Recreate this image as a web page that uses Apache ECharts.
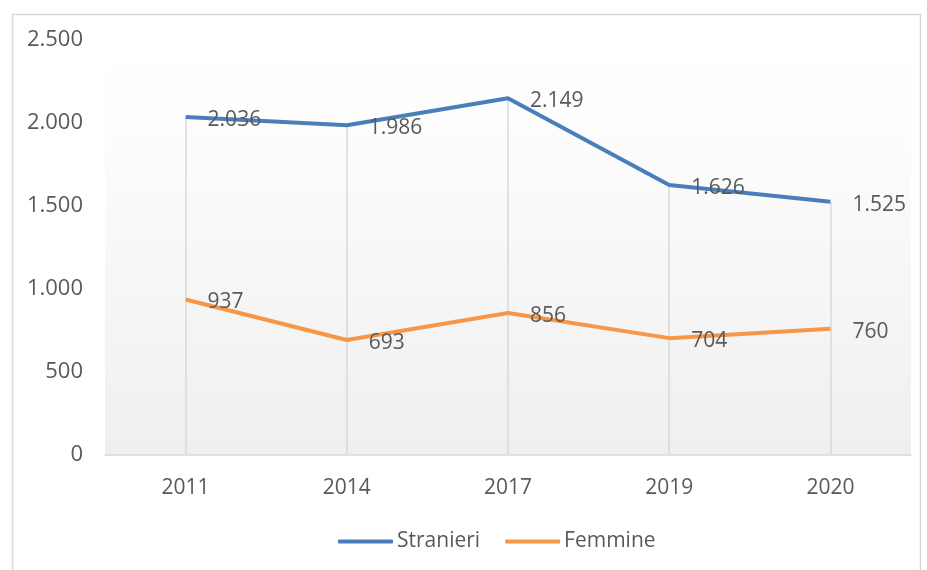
<!DOCTYPE html>
<html>
<head>
<meta charset="utf-8">
<script src="https://cdn.jsdelivr.net/npm/echarts@6/dist/echarts.min.js"></script>
<style>
  html, body { margin: 0; padding: 0; background: #fff; }
  #chart { width: 927px; height: 570px; }
</style>
</head>
<body>
<div id="chart"></div>
<script>
var years = ['2011', '2014', '2017', '2019', '2020'];
var stranieri = [2036, 1986, 2149, 1626, 1525];
var femmine = [937, 693, 856, 704, 760];

// formato italiano: punto come separatore delle migliaia
function fmt(v) {
    return String(v).replace(/\B(?=(\d{3})+(?!\d))/g, '.');
}

var myChart = echarts.init(document.getElementById('chart'));
var FONT = 'Open Sans';
var TXT = '#595959';

// linee verticali dal punto più alto fino all'asse
var dropLines = years.map(function (y, i) {
    return [
        { coord: [i, Math.max(stranieri[i], femmine[i])] },
        { coord: [i, 0] }
    ];
});

var option = {
    animation: false,
    textStyle: { fontFamily: FONT },
    graphic: [{
        type: 'rect',
        left: 10, top: 12,
        shape: { width: 908, height: 570 },
        style: { fill: 'none', stroke: '#d9d9d9', lineWidth: 1.5 },
        z: -1
    }],
    grid: {
        left: 105, right: 16, top: 40, bottom: 115,
        show: true,
        borderWidth: 0,
        backgroundColor: new echarts.graphic.LinearGradient(0, 0, 0, 1, [
            { offset: 0, color: '#ffffff' },
            { offset: 0.2, color: '#fdfdfd' },
            { offset: 1, color: '#efefef' }
        ])
    },
    legend: {
        bottom: 13,
        left: 333,
        itemWidth: 55,
        itemHeight: 4,
        itemGap: 25,
        icon: 'roundRect',
        textStyle: { fontFamily: FONT, fontSize: 21, color: TXT, padding: [0, 0, 0, -1] },
        data: ['Stranieri', 'Femmine']
    },
    xAxis: {
        type: 'category',
        data: years,
        axisLine: { lineStyle: { color: '#d9d9d9', width: 1.5 } },
        axisTick: { show: false },
        axisLabel: { color: TXT, fontSize: 21, fontFamily: FONT, margin: 23 }
    },
    yAxis: {
        type: 'value',
        min: 0,
        max: 2500,
        interval: 500,
        axisLine: { show: false },
        axisTick: { show: false },
        splitLine: { show: false },
        axisLabel: {
            color: TXT, fontSize: 22, fontFamily: FONT, margin: 22,
            formatter: fmt
        }
    },
    series: [{
        name: 'Stranieri',
        type: 'line',
        data: stranieri,
        symbol: 'circle',
        symbolSize: 0,
        color: '#4a7ebb',
        lineStyle: { width: 4, color: '#4a7ebb' },
        label: {
            show: true, position: 'right', distance: 22, offset: [0, 3],
            color: TXT, fontSize: 21, fontFamily: FONT,
            formatter: function (p) { return fmt(p.value); }
        },
        markLine: {
            silent: true,
            symbol: 'none',
            label: { show: false },
            lineStyle: { color: '#d9d9d9', width: 1.5, type: 'solid' },
            data: dropLines,
            z: 1
        },
        z: 3
    }, {
        name: 'Femmine',
        type: 'line',
        data: femmine,
        symbol: 'circle',
        symbolSize: 0,
        color: '#f79646',
        lineStyle: { width: 4, color: '#f79646' },
        label: {
            show: true, position: 'right', distance: 22, offset: [0, 3],
            color: TXT, fontSize: 21, fontFamily: FONT,
            formatter: function (p) { return fmt(p.value); }
        },
        z: 3
    }]
};

myChart.setOption(option);
</script>
</body>
</html>
